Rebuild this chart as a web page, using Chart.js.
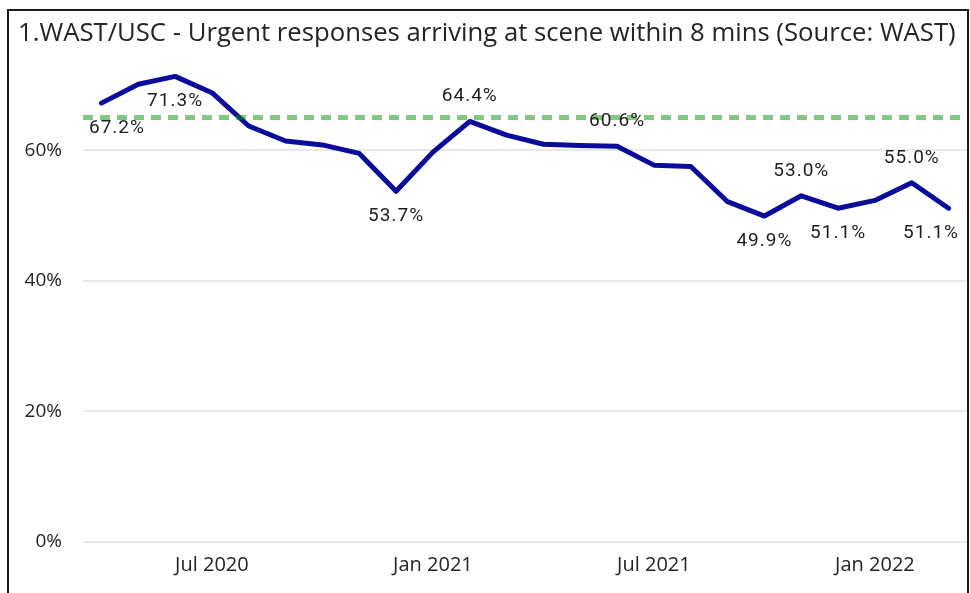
<!DOCTYPE html>
<html>
<head>
<meta charset="utf-8">
<script src="https://cdn.jsdelivr.net/npm/chart.js@4.4.1/dist/chart.umd.min.js"></script>
<style>
  html, body { margin: 0; padding: 0; background: #fff; overflow: hidden; }
  #frame {
    position: absolute; left: 7px; top: 9px;
    width: 958px; height: 640px;
    border: 2px solid #1b1b1b;
  }
  #chart { position: absolute; left: 0; top: 0; }
</style>
</head>
<body>
<div id="frame"></div>
<canvas id="chart" width="970" height="593"></canvas>
<script>
// Months shown on the x axis
const months = [
  'Apr 2020', 'May 2020', 'Jun 2020', 'Jul 2020', 'Aug 2020', 'Sep 2020',
  'Oct 2020', 'Nov 2020', 'Dec 2020', 'Jan 2021', 'Feb 2021', 'Mar 2021',
  'Apr 2021', 'May 2021', 'Jun 2021', 'Jul 2021', 'Aug 2021', 'Sep 2021',
  'Oct 2021', 'Nov 2021', 'Dec 2021', 'Jan 2022', 'Feb 2022', 'Mar 2022'
];

// % of urgent responses arriving within 8 mins
const within8Mins = [
  67.2, 70.1, 71.3, 68.8, 63.7, 61.4,
  60.8, 59.5, 53.7, 59.7, 64.4, 62.3,
  60.9, 60.7, 60.6, 57.7, 57.5, 52.1,
  49.9, 53.0, 51.1, 52.3, 55.0, 51.1
];

// Target (constant line)
const target = 65;

// Y axis ticks
const yTicks = [0, 20, 40, 60];

// Which points get a data label, and whether it sits above or below the line
const labelPlacement = {
  0: 'below', 2: 'below', 8: 'below', 10: 'above', 14: 'above',
  18: 'below', 19: 'above', 20: 'below', 22: 'above', 23: 'below'
};

const titleText = '1.WAST/USC - Urgent responses arriving at scene within 8 mins (Source: WAST)';
const textColor = '#252423';

// Dashed target line drawn across the whole plot area
const targetLinePlugin = {
  id: 'targetLine',
  afterDatasetsDraw(chart) {
    const { ctx, chartArea, scales } = chart;
    const y = scales.y.getPixelForValue(target);
    ctx.save();
    ctx.strokeStyle = 'rgba(0, 150, 0, 0.5)';
    ctx.lineWidth = 5;
    ctx.setLineDash([10, 7]);
    ctx.beginPath();
    ctx.moveTo(chartArea.left, y);
    ctx.lineTo(chartArea.right, y);
    ctx.stroke();
    ctx.restore();
  }
};

// Data labels above / below selected points
const pointLabelsPlugin = {
  id: 'pointLabels',
  afterDraw(chart) {
    const { ctx, chartArea } = chart;
    const meta = chart.getDatasetMeta(0);
    ctx.save();
    ctx.font = '19px Roboto';
    if ('letterSpacing' in ctx) ctx.letterSpacing = '1px';
    ctx.fillStyle = '#1e1e1e';
    ctx.textAlign = 'center';
    ctx.textBaseline = 'middle';
    Object.keys(labelPlacement).forEach((key) => {
      const i = Number(key);
      const pt = meta.data[i];
      const text = within8Mins[i].toFixed(1) + '%';
      const w = ctx.measureText(text).width;
      let x = pt.x;
      if (x - w / 2 < chartArea.left + 6) x = chartArea.left + 6 + w / 2;
      if (x + w / 2 > chartArea.right - 8) x = chartArea.right - 8 - w / 2;
      const y = labelPlacement[key] === 'above' ? pt.y - 25 : pt.y + 25;
      ctx.fillText(text, x, y);
    });
    ctx.restore();
  }
};

const ctx = document.getElementById('chart').getContext('2d');

new Chart(ctx, {
  type: 'line',
  data: {
    labels: months,
    datasets: [{
      label: 'Within 8 mins',
      data: within8Mins,
      borderColor: '#0b0b9c',
      borderWidth: 5,
      borderJoinStyle: 'round',
      borderCapStyle: 'round',
      pointRadius: 0,
      tension: 0,
      fill: false
    }]
  },
  options: {
    responsive: false,
    devicePixelRatio: 1,
    animation: false,
    layout: {
      padding: { left: 18, right: 3, top: 10, bottom: 0 }
    },
    plugins: {
      legend: { display: false },
      tooltip: { enabled: false },
      title: {
        display: true,
        text: titleText,
        align: 'start',
        color: textColor,
        font: { family: 'Open Sans', size: 25.7, weight: 'normal' },
        padding: { top: 8, bottom: 3.4 }
      }
    },
    scales: {
      x: {
        offset: true,
        afterFit(scale) { scale.height = 51.3; },
        grid: { display: false },
        border: { display: false },
        ticks: {
          autoSkip: false,
          maxRotation: 0,
          padding: 3.5,
          color: textColor,
          font: { family: 'Open Sans', size: 20 },
          callback: function(value) {
            const label = months[value];
            return (label.startsWith('Jul') || label.startsWith('Jan')) ? label : '';
          }
        }
      },
      y: {
        min: 0,
        max: 75,
        afterFit(scale) { scale.width = 65; },
        afterBuildTicks(scale) { scale.ticks = yTicks.map(v => ({ value: v })); },
        grid: { color: '#e8e8e8', lineWidth: 2, drawTicks: false },
        border: { display: false },
        ticks: {
          padding: 21,
          color: textColor,
          font: { family: 'Open Sans', size: 19 },
          callback: (v) => v + '%'
        }
      }
    }
  },
  plugins: [targetLinePlugin, pointLabelsPlugin]
});
</script>
</body>
</html>
